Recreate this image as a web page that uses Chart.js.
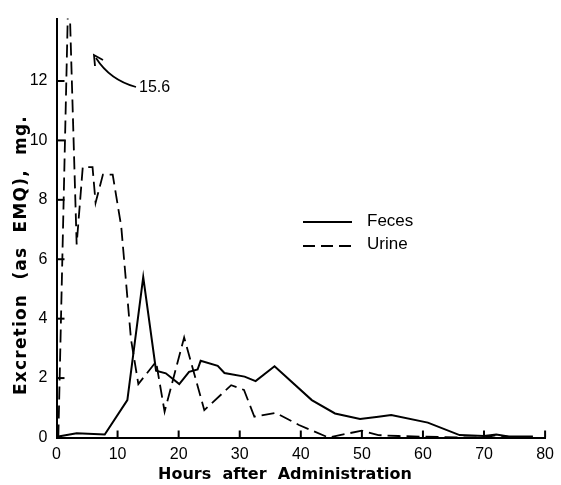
<!DOCTYPE html>
<html>
<head>
<meta charset="utf-8">
<script src="https://cdn.jsdelivr.net/npm/chart.js@4.4.0/dist/chart.umd.min.js"></script>
<style>
  html, body { margin: 0; padding: 0; background: #fff; }
  #wrap { width: 561px; height: 485px; }
</style>
</head>
<body>
<div id="wrap"><canvas id="excretionChart" width="561" height="485"></canvas></div>
<script>
// Feces (solid line)
const fecesHours = [0.3, 3.3, 7.9, 11.6, 14.2, 16.3, 17.9, 20.1, 21.7, 23.1, 23.6, 26.4, 27.5, 30.8, 32.6, 35.7, 41.8, 45.6, 49.7, 52.7, 54.8, 60.8, 66, 70, 72, 74, 78];
const fecesValues = [0.03, 0.14, 0.1, 1.26, 5.4, 2.25, 2.16, 1.8, 2.21, 2.29, 2.58, 2.41, 2.17, 2.05, 1.9, 2.4, 1.26, 0.81, 0.62, 0.7, 0.76, 0.5, 0.08, 0.05, 0.1, 0.03, 0.03];

// Urine (dashed line)
const urineHours = [0.3, 2.0, 3.3, 4.3, 5.9, 6.4, 7.6, 9.2, 10.6, 12.2, 13.4, 16.3, 17.7, 20.9, 24.2, 28.6, 30.7, 32.4, 35.9, 39.7, 44.5, 50, 52.7, 56, 60, 66, 70, 72, 75, 78];
const urineValues = [0, 15.6, 6.5, 9.1, 9.1, 7.9, 8.85, 8.85, 7.1, 3.3, 1.8, 2.55, 0.87, 3.37, 0.92, 1.76, 1.6, 0.7, 0.83, 0.42, 0, 0.23, 0.08, 0.05, 0.03, 0, 0, 0.08, 0, 0];

const xTicks = [0, 10, 20, 30, 40, 50, 60, 70, 80];
const yTicks = [0, 2, 4, 6, 8, 10, 12];

const urineDash = [13, 6];

function toPoints(xs, ys) {
  return xs.map((h, i) => ({ x: h, y: ys[i] }));
}

// extra drawing: inward tick marks, axis titles, legend, peak note
const decorations = {
  id: "decorations",
  afterDraw(chart) {
    const { ctx, chartArea, scales } = chart;
    const x = scales.x;
    const y = scales.y;
    ctx.save();
    ctx.strokeStyle = "#000";
    ctx.fillStyle = "#000";
    ctx.lineWidth = 2;

    // tick marks pointing into the plot
    yTicks.slice(1).forEach((v) => {
      const py = y.getPixelForValue(v);
      ctx.beginPath();
      ctx.moveTo(chartArea.left, py);
      ctx.lineTo(chartArea.left + 8, py);
      ctx.stroke();
    });
    xTicks.slice(1).forEach((v) => {
      const px = x.getPixelForValue(v);
      ctx.beginPath();
      ctx.moveTo(px, chartArea.bottom);
      ctx.lineTo(px, chartArea.bottom - 7);
      ctx.stroke();
    });

    // axis titles
    ctx.font = 'bold 16px "DejaVu Sans"';
    ctx.textAlign = "center";
    ctx.textBaseline = "middle";
    ctx.fillText("Hours  after  Administration", 285, 475);
    ctx.save();
    ctx.translate(22, 255);
    ctx.rotate(-Math.PI / 2);
    ctx.font = 'bold 17px "DejaVu Sans"';
    ctx.letterSpacing = "1.2px";
    ctx.fillText("Excretion  (as  EMQ),  mg.", 0, 0);
    ctx.restore();

    // legend
    ctx.font = '17px "Liberation Sans"';
    ctx.textAlign = "left";
    ctx.lineWidth = 2;
    ctx.beginPath();
    ctx.moveTo(303, 222);
    ctx.lineTo(352, 222);
    ctx.stroke();
    ctx.fillText("Feces", 367, 221);
    ctx.setLineDash([12, 6]);
    ctx.beginPath();
    ctx.moveTo(303, 246);
    ctx.lineTo(352, 246);
    ctx.stroke();
    ctx.setLineDash([]);
    ctx.fillText("Urine", 367, 244);

    // urine peak goes off the top, so note its value
    const peak = Math.max(...urineValues);
    ctx.font = '16px "Liberation Sans"';
    ctx.fillText(String(peak), 139, 88);
    ctx.lineWidth = 1.8;
    ctx.beginPath();
    ctx.moveTo(136, 87);
    ctx.quadraticCurveTo(110, 80, 96, 58);
    ctx.stroke();
    ctx.beginPath();
    ctx.moveTo(95, 66);
    ctx.lineTo(94, 55);
    ctx.lineTo(103, 60);
    ctx.stroke();
    ctx.restore();
  },
};

const tickFont = { family: '"Liberation Sans Narrow", "Liberation Sans"', size: 16 };

const ctx = document.getElementById("excretionChart").getContext("2d");
const excretionChart = new Chart(ctx, {
  type: "line",
  data: {
    datasets: [
      {
        label: "Feces",
        data: toPoints(fecesHours, fecesValues),
        borderColor: "#000",
        borderWidth: 2,
        pointRadius: 0,
        tension: 0,
        fill: false,
      },
      {
        label: "Urine",
        data: toPoints(urineHours, urineValues),
        borderColor: "#000",
        borderWidth: 1.8,
        borderDash: urineDash,
        pointRadius: 0,
        tension: 0,
        fill: false,
      },
    ],
  },
  options: {
    responsive: false,
    animation: false,
    layout: { padding: { top: 18, right: 13, left: 0, bottom: 0 } },
    plugins: {
      legend: { display: false },
      tooltip: { enabled: false },
    },
    scales: {
      x: {
        type: "linear",
        min: 0,
        max: 80,
        afterBuildTicks: (scale) => {
          scale.ticks = xTicks.map((v) => ({ value: v }));
        },
        afterFit: (scale) => {
          scale.height = 47.5;
        },
        grid: { display: false, drawTicks: false },
        border: { display: true, color: "#000", width: 2 },
        ticks: { color: "#000", font: { family: "Liberation Sans", size: 16 }, padding: 7, maxRotation: 0 },
      },
      y: {
        type: "linear",
        min: 0,
        max: 14.1,
        afterBuildTicks: (scale) => {
          scale.ticks = yTicks.map((v) => ({ value: v }));
        },
        afterFit: (scale) => {
          scale.width = 56.5;
        },
        grid: { display: false, drawTicks: false },
        border: { display: true, color: "#000", width: 2 },
        ticks: { color: "#000", font: tickFont, padding: 9 },
      },
    },
  },
  plugins: [decorations],
});
</script>
</body>
</html>
